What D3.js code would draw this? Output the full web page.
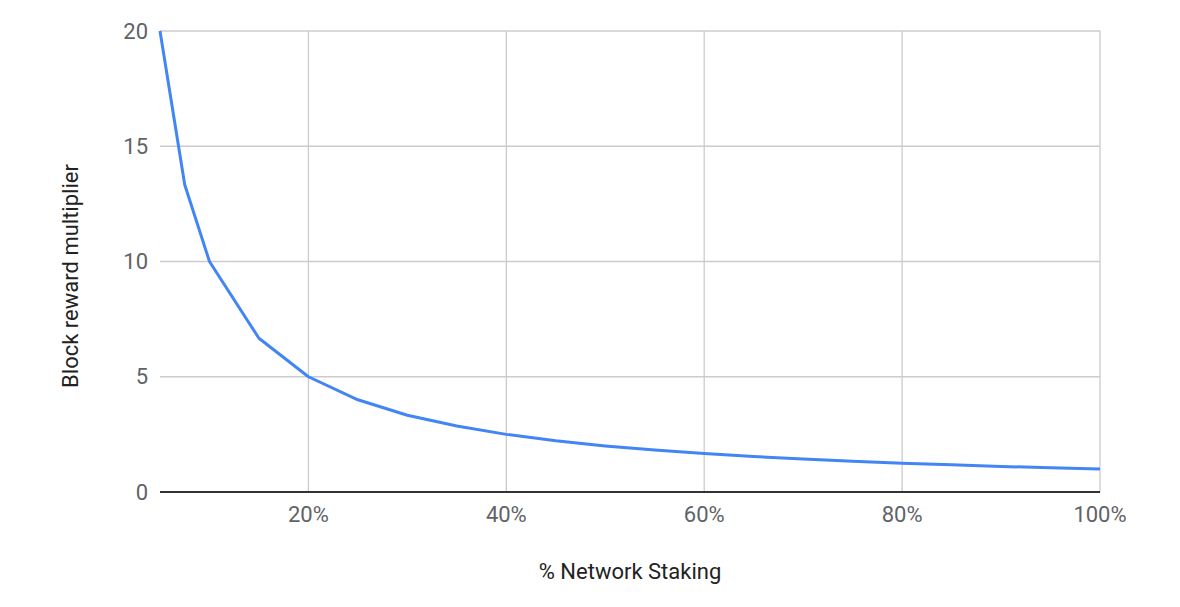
<!DOCTYPE html>
<html>
<head>
<meta charset="utf-8">
<script src="https://cdn.jsdelivr.net/npm/d3@7"></script>
<style>
	body { margin: 0; background: #fff; }
	svg { display: block; font-family: Roboto, "Noto Sans", sans-serif; }
	.tick-label { fill: #5f6368; font-size: 22px; }
	.axis-title { fill: #222; font-size: 22px; }
</style>
</head>
<body>
<div id="chart"></div>
<script>
// % of network staking and the block reward multiplier
var staking = [5, 7.5, 10, 15, 20, 25, 30, 35, 40, 45, 50, 55, 60, 65, 70, 75, 80, 85, 90, 95, 100];
var multiplier = [20, 13.33, 10, 6.67, 5, 4, 3.33, 2.86, 2.5, 2.22, 2, 1.82, 1.67, 1.54, 1.43, 1.33, 1.25, 1.18, 1.11, 1.05, 1];
var xTicks = [20, 40, 60, 80, 100];
var yTicks = [0, 5, 10, 15, 20];

var width = 1180, height = 607;
var padding = { top: 31, right: 80, bottom: 115, left: 160 };

var svg = d3.select('#chart').append('svg')
	.attr('width', width)
	.attr('height', height);

var x = d3.scaleLinear().domain([5, 100]).range([padding.left, width - padding.right]);
var y = d3.scaleLinear().domain([0, 20]).range([height - padding.bottom, padding.top]);

// gridlines
svg.append('g').selectAll('line')
	.data(yTicks.filter(function (d) { return d > 0; }))
	.enter().append('line')
	.attr('x1', x(5)).attr('x2', x(100))
	.attr('y1', function (d) { return y(d); })
	.attr('y2', function (d) { return y(d); })
	.attr('stroke', '#cccccc').attr('stroke-width', 1.3);

svg.append('g').selectAll('line')
	.data(xTicks)
	.enter().append('line')
	.attr('x1', function (d) { return x(d); })
	.attr('x2', function (d) { return x(d); })
	.attr('y1', y(20)).attr('y2', y(0))
	.attr('stroke', '#cccccc').attr('stroke-width', 1.3);

// baseline
svg.append('line')
	.attr('x1', x(5)).attr('x2', x(100))
	.attr('y1', y(0)).attr('y2', y(0))
	.attr('stroke', '#333').attr('stroke-width', 2);

// tick labels
svg.append('g').selectAll('text')
	.data(yTicks)
	.enter().append('text')
	.attr('class', 'tick-label')
	.attr('x', padding.left - 12)
	.attr('y', function (d) { return y(d); })
	.attr('text-anchor', 'end')
	.attr('dominant-baseline', 'central')
	.text(function (d) { return d; });

svg.append('g').selectAll('text')
	.data(xTicks)
	.enter().append('text')
	.attr('class', 'tick-label')
	.attr('x', function (d) { return x(d); })
	.attr('y', y(0) + 22)
	.attr('text-anchor', 'middle')
	.attr('dominant-baseline', 'central')
	.text(function (d) { return d + '%'; });

// the curve
var line = d3.line()
	.x(function (d, i) { return x(staking[i]); })
	.y(function (d) { return y(d); });

svg.append('path')
	.datum(multiplier)
	.attr('fill', 'none')
	.attr('stroke', '#4285f4')
	.attr('stroke-width', 3)
	.attr('stroke-linejoin', 'round')
	.attr('d', line);

// axis titles
svg.append('text')
	.attr('class', 'axis-title')
	.attr('x', 630)
	.attr('y', 571)
	.attr('text-anchor', 'middle')
	.attr('dominant-baseline', 'central')
	.text('% Network Staking');

svg.append('text')
	.attr('class', 'axis-title')
	.attr('transform', 'translate(70,276) rotate(-90)')
	.attr('text-anchor', 'middle')
	.attr('dominant-baseline', 'central')
	.text('Block reward multiplier');
</script>
</body>
</html>
